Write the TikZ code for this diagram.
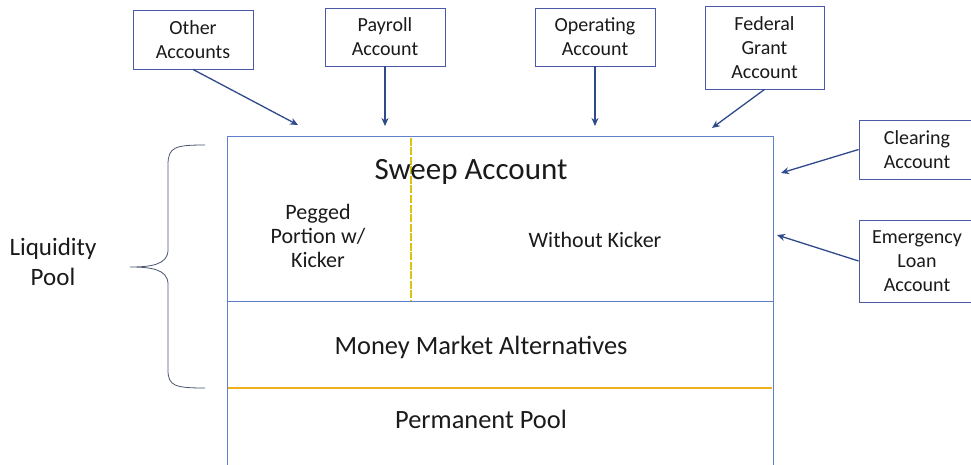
\documentclass[tikz,border=0pt]{standalone}
\usepackage{fontspec}
\setmainfont{Carlito}
\usetikzlibrary{arrows.meta}
\definecolor{boxblue}{HTML}{4A5AA8}
\definecolor{arrowblue}{HTML}{2F4A8A}
\definecolor{mainblue}{HTML}{6080CC}
\definecolor{divyellow}{HTML}{D8C410}
\definecolor{divorange}{HTML}{F0B020}
\definecolor{bracegray}{HTML}{4A5570}
\definecolor{txt}{HTML}{1A1A1A}
\tikzset{
  acct/.style={draw=boxblue, line width=0.9pt, fill=white, align=center, inner sep=0pt, font=\fontsize{20}{24}\selectfont, text=txt},
  feed/.style={draw=arrowblue, line width=1.3pt, -{Stealth[length=8pt,width=7pt]}},
  small/.style={align=center, font=\fontsize{22}{24}\selectfont, text=txt},
  big/.style={font=\fontsize{26.4}{30}\selectfont, text=txt},
}
\begin{document}
\begin{tikzpicture}[x=1pt,y=-1pt]
\useasboundingbox (0,0) rectangle (971,465);
% main structure
\draw[mainblue, line width=1pt] (227,470) -- (227,137) -- (773,137) -- (773,470);
\draw[mainblue, line width=1pt] (227,301) -- (773,301);
\draw[divorange, line width=1.3pt] (228,388) -- (772,388);
\draw[divyellow, line width=1.2pt, dash pattern=on 8pt off 1.5pt] (411,138) -- (411,300);
% texts inside
\node[font=\fontsize{31}{34}\selectfont, text=txt] (sweep) at (471,172) {Sweep Account};
\node[small] (pegged) at (318,236) {Pegged\\Portion w/\\Kicker};
\node[small] (without) at (595,240) {Without Kicker};
\node[big] (mma) at (481,347) {Money Market Alternatives};
\node[big] (perm) at (481,419) {Permanent Pool};
% liquidity brace
\draw[bracegray, line width=0.8pt] (205,145) .. controls (175,145) and (168,147) .. (168,165)
  -- (168,250) .. controls (168,265) and (150,267) .. (130,267)
  .. controls (150,267) and (168,269) .. (168,284)
  -- (168,370) .. controls (168,386) and (175,388) .. (205,388);
\node[align=center, font=\fontsize{25}{30}\selectfont, text=txt] (liq) at (53,262) {Liquidity\\Pool};
% account boxes
\node[acct, minimum width=120pt, minimum height=59pt] (other) at (193,39.5) {Other\\Accounts};
\node[acct, minimum width=120pt, minimum height=58pt] (payroll) at (385,37) {Payroll\\Account};
\node[acct, minimum width=120pt, minimum height=58pt] (operating) at (595,37) {Operating\\Account};
\node[acct, minimum width=119pt, minimum height=83pt] (federal) at (764.5,47.5) {Federal\\Grant\\Account};
\node[acct, minimum width=116pt, minimum height=59pt] (clearing) at (917,149.5) {Clearing\\Account};
\node[acct, minimum width=116pt, minimum height=82pt] (emergency) at (917,261) {Emergency\\Loan\\Account};
% arrow targets
\coordinate (tOther) at (298,125);
\coordinate (tPayroll) at (385,126);
\coordinate (tOperating) at (595,126);
\coordinate (tFederal) at (712,128);
\coordinate (tClearing) at (781,173);
\coordinate (tEmergency) at (777,235);
\draw[feed] (other.south) -- (tOther);
\draw[feed] (payroll.south) -- (tPayroll);
\draw[feed] (operating.south) -- (tOperating);
\draw[feed] (federal.south) -- (tFederal);
\draw[feed] (clearing.west) -- (tClearing);
\draw[feed] (emergency.west) -- (tEmergency);
\end{tikzpicture}
\end{document}
